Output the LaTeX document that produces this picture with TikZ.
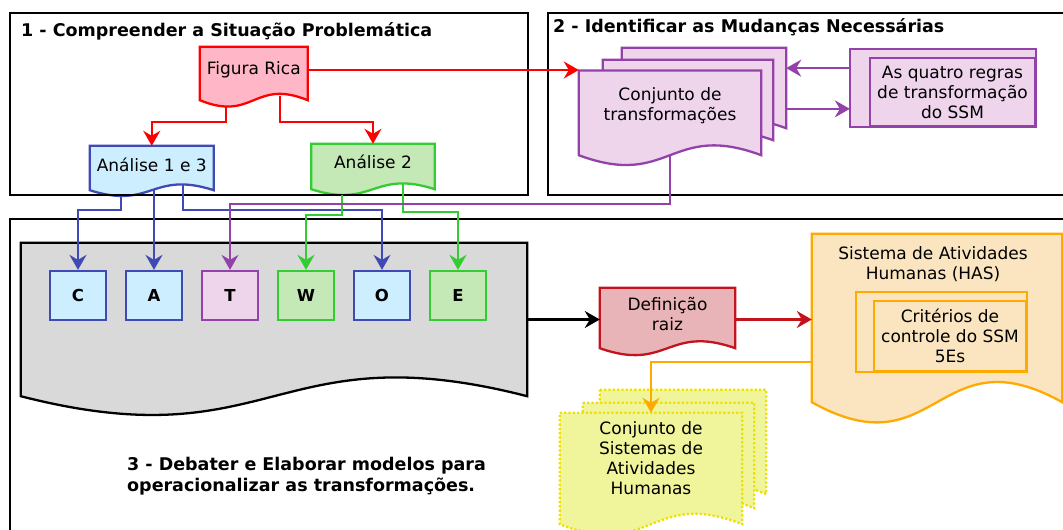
\documentclass[tikz,border=0pt]{standalone}
\usepackage{fontspec}
\setmainfont{DejaVu Sans}
\usetikzlibrary{positioning,calc,arrows.meta,backgrounds}
\definecolor{fred}{HTML}{FF0000}
\definecolor{fpink}{HTML}{FFB6C6}
\definecolor{fblue}{HTML}{3F4AB4}
\definecolor{fltblue}{HTML}{CCEEFF}
\definecolor{fgreen}{HTML}{33CC33}
\definecolor{fltgreen}{HTML}{C4E8B6}
\definecolor{fpurple}{HTML}{9242A8}
\definecolor{fltpurple}{HTML}{EED5EC}
\definecolor{fgrey}{HTML}{D9D9D9}
\definecolor{fdred}{HTML}{C3141E}
\definecolor{frose}{HTML}{E8B4B8}
\definecolor{forange}{HTML}{FFAA00}
\definecolor{fpeach}{HTML}{FAE5C0}
\definecolor{fyellow}{HTML}{EEE000}
\definecolor{fltyellow}{HTML}{F0F59C}

\begin{document}
\begin{tikzpicture}[x=1pt,y=-1pt,font=\fontsize{17}{20}\selectfont,
    secframe/.style={draw=black,line width=2.4pt},
    title/.style={anchor=west,inner sep=0pt,font=\fontsize{17.5}{21}\selectfont\bfseries},
    docnode/.style={inner sep=1pt,align=center},
    redbox/.style={draw=fred,fill=fpink,line width=2.3pt},
    bluebox/.style={draw=fblue,fill=fltblue,line width=2.3pt},
    greenbox/.style={draw=fgreen,fill=fltgreen,line width=2.3pt},
    purplebox/.style={draw=fpurple,fill=fltpurple,line width=2.3pt},
    greybox/.style={draw=black,fill=fgrey,line width=2.3pt},
    rosebox/.style={draw=fdred,fill=frose,line width=2.3pt},
    orangebox/.style={draw=forange,fill=fpeach,line width=2.3pt},
    yellowbox/.style={draw=fyellow,fill=fltyellow,line width=2.3pt,dotted},
    letter/.style={minimum width=56pt,minimum height=49pt,font=\fontsize{16.5}{20}\selectfont\bfseries},
    arr/.style={-{Stealth[length=15pt,width=17pt,inset=5pt]},line width=2.3pt}]
    \path[use as bounding box] (0,0) rectangle (1063,530);
    \clip (0,0) rectangle (1063,530);
    \draw[secframe] (10,13) rectangle (528,195);
    \draw[secframe] (548,13) rectangle (1075,195);
    \draw[secframe] (10,219) rectangle (1075,545);
    \node[title] (t1) at (21,31) {1 - Compreender a Situação Problemática};
    \node[title] (t2) at (553,27) {2 - Identificar as Mudanças Necessárias};
    \node[title,align=left] (t3) at (127,476) {3 - Debater e Elaborar modelos para\\operacionalizar as transformações.};

    \node[docnode,minimum width=107.5pt,minimum height=46pt] (fig) at (253.75,70) {Figura Rica};
    \node[docnode,minimum width=123.5pt,minimum height=38pt] (a13) at (151.75,165) {Análise 1 e 3};
    \node[docnode,minimum width=123pt,minimum height=36pt] (a2) at (373,162) {Análise 2};
    \node[docnode,minimum width=164pt,minimum height=80pt] (trf3) at (704,88) {};
    \node[docnode,minimum width=170pt,minimum height=80pt] (trf2) at (688,100) {};
    \node[docnode,minimum width=182pt,minimum height=70.6pt] (trf) at (670,106) {Conjunto de\\transformações};
    \node[purplebox,minimum width=165pt,minimum height=67.4pt,align=center,inner sep=1pt] (rules) at (952.5,92) {As quatro regras\\de transformação\\do SSM};

    \node[docnode,minimum width=506pt,minimum height=153pt] (cat) at (274,319.5) {};
    \node[letter,bluebox] (c) at (78,295.5) {C};
    \node[letter,bluebox,right=17.7pt of c] (a) {A};
    \node[letter,purplebox,right=17.7pt of a] (t) {T};
    \node[letter,greenbox,right=17.7pt of t] (w) {W};
    \node[letter,bluebox,right=17.7pt of w] (o) {O};
    \node[letter,greenbox,right=17.7pt of o] (e) {E};

    \node[docnode,minimum width=135pt,minimum height=52pt] (def) at (667.5,314) {Definição\\raiz};
    \node[docnode,minimum width=250pt,minimum height=168pt] (has) at (937,318) {};
    \node[anchor=north,align=center] (hast) at ([xshift=-4pt,yshift=-9pt]has.north) {Sistema de Atividades\\Humanas (HAS)};
    \node[orangebox,minimum width=152pt,minimum height=70pt,align=center,inner sep=1pt] (crit) at (950,336) {Critérios de\\controle do SSM\\5Es};

    \node[docnode,minimum width=166pt,minimum height=104pt] (yl3) at (683,442) {};
    \node[docnode,minimum width=171pt,minimum height=105pt] (yl2) at (668.5,455.5) {};
    \node[docnode,minimum width=182pt,minimum height=90pt] (yl1) at (651,458) {Conjunto de\\Sistemas de\\Atividades\\Humanas};

    \begin{scope}[on background layer]
        \foreach \n/\h/\d/\s in {trf3/30/0/purplebox,trf2/30/0/purplebox,trf/34/13.7/purplebox,
            fig/22/7/redbox,a13/20/6/bluebox,a2/20/9/greenbox,cat/65/0/greybox,def/24/8/rosebox,
            has/70/0/orangebox,yl3/36/0/yellowbox,yl2/36/0/yellowbox,yl1/36/21/yellowbox}
            \draw[\s] (\n.north west) -- (\n.north east) -- ($(\n.south east)+(0,\d)$)
                .. controls ($(\n.south)+(0,\d-\h)$) and ($(\n.south)+(0,\d+\h)$) .. ($(\n.south west)+(0,\d)$) -- cycle;
        \draw[purplebox] ($(rules.north west)+(-19,-8)$) rectangle (rules.south east);
        \draw[orangebox] ($(crit.north west)+(-17,-8)$) rectangle (crit.south east);
    \end{scope}

    \draw[arr,fred] (fig.east) -- (fig.east -| trf.west);
    \draw[arr,fred] ($(fig.south)+(-28,13)$) -- ++(0,16) -| (a13.north);
    \draw[arr,fred] ($(fig.south)+(26,3)$) -- ++(0,26) -| (a2.north);
    \draw[arr,fblue] ($(a13.south)+(-31,12)$) -- ++(0,14) -| (c.north);
    \draw[arr,fblue] ($(a13.south -| a.north)+(0,6)$) -- (a.north);
    \draw[arr,fblue,line width=1.5pt] ($(a13.south)+(31,0)$) -- ++(0,26) -| (o.north);
    \draw[arr,fgreen] ($(a2.south)+(-31,15)$) -- ++(0,20) -| (w.north);
    \draw[arr,fgreen] ($(a2.south)+(30,3)$) -- ++(0,29) -| (e.north);
    \draw[arr,fpurple,line width=1.5pt] ($(trf.south)+(0,13.7)$) -- ++(0,49) -| (t.north);
    \coordinate (r1) at ($(rules.north west)+(-19,11)$);
    \coordinate (r2) at ($(rules.south west)+(-19,-18)$);
    \draw[arr,fpurple] (r1) -- (r1 -| trf3.east);
    \draw[arr,fpurple] (r2 -| trf3.east) -- (r2);
    \draw[arr,black] (cat.east) -- (cat.east -| def.west);
    \draw[arr,fdred] (cat.east -| def.east) -- (cat.east -| has.west);
    \draw[arr,forange] ($(has.west)+(0,44)$) -| (yl1.north);
\end{tikzpicture}
\end{document}
